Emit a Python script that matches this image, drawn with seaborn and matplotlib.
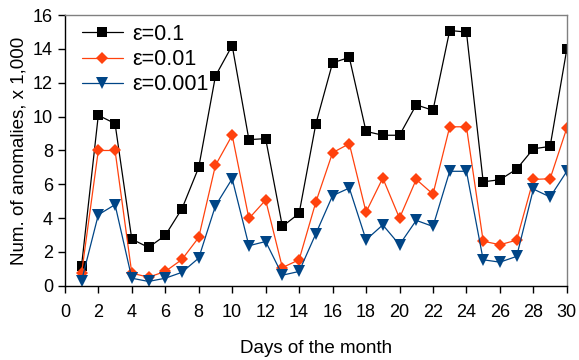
import pandas as pd
import matplotlib
matplotlib.use('Agg')
import matplotlib.pyplot as plt
import seaborn as sns

days = list(range(1, 31))
eps_01 = [1.2, 10.08, 9.59, 2.76, 2.27, 2.98, 4.56, 7.0, 12.4, 14.2,
          8.64, 8.7, 3.51, 4.28, 9.57, 13.18, 13.5, 9.13, 8.9, 8.9,
          10.7, 10.37, 15.09, 15.0, 6.15, 6.27, 6.9, 8.1, 8.24, 14.0]
eps_001 = [0.75, 8.0, 8.0, 0.75, 0.51, 0.85, 1.56, 2.86, 7.12, 8.9,
           3.98, 5.07, 1.08, 1.54, 4.95, 7.87, 8.4, 4.36, 6.37, 4.0,
           6.29, 5.42, 9.4, 9.4, 2.64, 2.43, 2.7, 6.29, 6.33, 9.33]
eps_0001 = [0.3, 4.2, 4.8, 0.45, 0.26, 0.45, 0.8, 1.64, 4.73, 6.33,
            2.37, 2.62, 0.63, 0.85, 3.08, 5.33, 5.78, 2.72, 3.6, 2.43,
            3.87, 3.51, 6.77, 6.77, 1.54, 1.4, 1.74, 5.72, 5.25, 6.77]
labels = ['ε=0.1', 'ε=0.01', 'ε=0.001']

df = pd.DataFrame({
    'day': days * 3,
    'value': eps_01 + eps_001 + eps_0001,
    'series': [labels[0]] * 30 + [labels[1]] * 30 + [labels[2]] * 30,
})

sns.set_style('ticks')
plt.rcParams['font.family'] = ['Liberation Sans', 'DejaVu Sans']
plt.rcParams['text.color'] = 'black'
plt.rcParams['axes.labelcolor'] = 'black'
plt.rcParams['xtick.color'] = 'black'
plt.rcParams['ytick.color'] = 'black'

fig = plt.figure(figsize=(5.79, 3.6), dpi=100)
ax = fig.add_axes([0.112, 0.206, 0.867, 0.752])

palette = {labels[0]: '#000000', labels[1]: '#ff420e', labels[2]: '#004586'}
markers = {labels[0]: 's', labels[1]: 'D', labels[2]: 'v'}
sizes = {labels[0]: 7, labels[1]: 6, labels[2]: 8}

for lab in labels:
    sub = df[df['series'] == lab]
    sns.lineplot(data=sub, x='day', y='value', ax=ax, color=palette[lab],
                 marker=markers[lab], markersize=sizes[lab], markeredgewidth=0,
                 linewidth=0.9, label=lab)

ax.set_xlim(0, 30)
ax.set_ylim(0, 16)
ax.set_xticks(range(0, 31, 2))
ax.set_yticks(range(0, 17, 2))
ax.tick_params(axis='both', labelsize=13, length=5, width=1, direction='out')
ax.tick_params(axis='x', pad=8)
ax.set_xlabel('Days of the month', fontsize=13.5, labelpad=14)
ax.set_ylabel('Num. of anomalies, x 1,000', fontsize=13.5, labelpad=4)

for side in ['left', 'bottom']:
    ax.spines[side].set_color('black')
    ax.spines[side].set_linewidth(1)
for side in ['top', 'right']:
    ax.spines[side].set_visible(True)
    ax.spines[side].set_color('#808080')
    ax.spines[side].set_linewidth(1)

ax.legend(loc='upper left', bbox_to_anchor=(0.017, 1.0), frameon=False,
          fontsize=15.5, handlelength=1.9, borderaxespad=0, borderpad=0.4,
          labelspacing=0.2, handletextpad=0.45)

fig.savefig('out.png', dpi=100)
